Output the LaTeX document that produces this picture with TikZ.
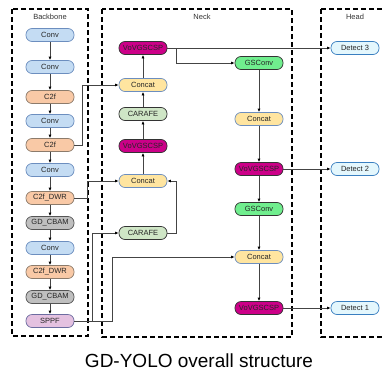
\documentclass[tikz,border=0pt]{standalone}
\usepackage{fontspec}
\setmainfont{Liberation Sans}
\usetikzlibrary{arrows.meta}

\definecolor{convfill}{HTML}{C4DCF3}
\definecolor{convline}{HTML}{6C8EBF}
\definecolor{cffill}{HTML}{F9C9A6}
\definecolor{cfline}{HTML}{8C7B6B}
\definecolor{cbamfill}{HTML}{BFBFBF}
\definecolor{cbamline}{HTML}{555555}
\definecolor{sppffill}{HTML}{E4C1E0}
\definecolor{sppfline}{HTML}{6C6CA0}
\definecolor{vovfill}{HTML}{CC0088}
\definecolor{catfill}{HTML}{FFE5A0}
\definecolor{carfill}{HTML}{CFE6C6}
\definecolor{gsfill}{HTML}{70EE8E}
\definecolor{detfill}{HTML}{E4F7FD}
\definecolor{detline}{HTML}{3A7FC0}
\definecolor{wire}{HTML}{444444}

\begin{document}
\begin{tikzpicture}[x=1pt,y=-1pt,
  blk/.style={rounded corners=6pt, draw, line width=0.7pt,
    minimum width=48pt, minimum height=13pt, inner sep=0pt,
    font=\fontsize{7.5}{8}\selectfont, text=black!85},
  conv/.style={blk, fill=convfill, draw=convline},
  cf/.style={blk, fill=cffill, draw=cfline},
  cbam/.style={blk, fill=cbamfill, draw=cbamline},
  sppf/.style={blk, fill=sppffill, draw=sppfline},
  vov/.style={blk, fill=vovfill, draw=black!80},
  cat/.style={blk, fill=catfill, draw=convline},
  car/.style={blk, fill=carfill, draw=black!80},
  gs/.style={blk, fill=gsfill, draw=black!80},
  det/.style={blk, fill=detfill, draw=detline},
  frame/.style={draw=black, line width=1.2pt, dash pattern=on 5pt off 3pt},
  lbl/.style={font=\fontsize{7.5}{8}\selectfont, text=black!80},
  conn/.style={draw=wire, line width=0.8pt,
    -{Latex[length=3.5pt,width=3pt,color=black]}}
]
\useasboundingbox (0,0) rectangle (382,372);

% section frames
\draw[frame] (12,9) rectangle (88,336);
\draw[frame] (102,9) rectangle (292,337);
\draw[frame] (321,9) -- (390,9);
\draw[frame] (321,9) -- (321,337) -- (390,337);

\node[lbl] (tb) at (50,17) {Backbone};
\node[lbl] (tn) at (202,17) {Neck};
\node[lbl] (th) at (355,17) {Head};

% backbone
\node[conv] (conv1) at (50,35) {Conv};
\node[conv] (conv2) at (50,67) {Conv};
\node[cf]   (c2fA)  at (50,97) {C2f};
\node[conv] (conv3) at (50,121) {Conv};
\node[cf]   (c2fB)  at (50,145) {C2f};
\node[conv] (conv4) at (50,170) {Conv};
\node[cf]   (dwr1)  at (50,198) {C2f\_DWR};
\node[cbam] (cbam1) at (50,223) {GD\_CBAM};
\node[conv] (conv5) at (50,248) {Conv};
\node[cf]   (dwr2)  at (50,272) {C2f\_DWR};
\node[cbam] (cbam2) at (50,297) {GD\_CBAM};
\node[sppf] (sppf)  at (50,321) {SPPF};

% neck, upsampling path
\node[vov] (vov1) at (143,48) {VoVGSCSP};
\node[cat] (cat1) at (143,85) {Concat};
\node[car] (car1) at (143,114) {CARAFE};
\node[vov] (vov2) at (143,146) {VoVGSCSP};
\node[cat] (cat2) at (143,181) {Concat};
\node[car] (car2) at (143,233) {CARAFE};

% neck, downsampling path
\node[gs]  (gs1)  at (259,63) {GSConv};
\node[cat] (cat3) at (259,119) {Concat};
\node[vov] (vov3) at (259,169) {VoVGSCSP};
\node[gs]  (gs2)  at (259,209) {GSConv};
\node[cat] (cat4) at (259,257) {Concat};
\node[vov] (vov4) at (259,308) {VoVGSCSP};

% head
\node[det] (det3) at (355,48) {Detect 3};
\node[det] (det2) at (355,169) {Detect 2};
\node[det] (det1) at (355,308) {Detect 1};

% backbone chain
\foreach \a/\b in {conv1/conv2, conv2/c2fA, c2fA/conv3, conv3/c2fB, c2fB/conv4,
                   conv4/dwr1, dwr1/cbam1, cbam1/conv5, conv5/dwr2, dwr2/cbam2, cbam2/sppf}
  \draw[conn] (\a.south) -- (\b.north);

% backbone to neck
\draw[conn] (c2fB.east) -- ++(8,0) |- (cat1.west);
\draw[conn] (dwr1.east) -- ++(13,0) |- (cat2.west);
\draw[conn] (sppf.east) -- ++(18,0) |- (car2.west);
\draw[conn] (sppf.east) -- ++(38,0) |- (cat4.west);

% upsampling path
\draw[conn] (car2.east) -- ++(9,0) |- (cat2.east);
\draw[conn] (cat2.north) -- (vov2.south);
\draw[conn] (vov2.north) -- (car1.south);
\draw[conn] (car1.north) -- (cat1.south);
\draw[conn] (cat1.north) -- (vov1.south);

% downsampling path
\draw[conn] (vov1.east) -- (det3.west);
\draw[conn] (vov1.east) -- ++(9,0) |- (gs1.west);
\draw[conn] (gs1.south) -- (cat3.north);
\draw[conn] (cat3.south) -- (vov3.north);
\draw[conn] (vov3.east) -- (det2.west);
\draw[conn] (vov3.south) -- (gs2.north);
\draw[conn] (gs2.south) -- (cat4.north);
\draw[conn] (cat4.south) -- (vov4.north);
\draw[conn] (vov4.east) -- (det1.west);

% caption
\node[font=\fontsize{19}{22}\selectfont, anchor=base] (cap) at (199,367) {GD-YOLO overall structure};
\end{tikzpicture}
\end{document}
